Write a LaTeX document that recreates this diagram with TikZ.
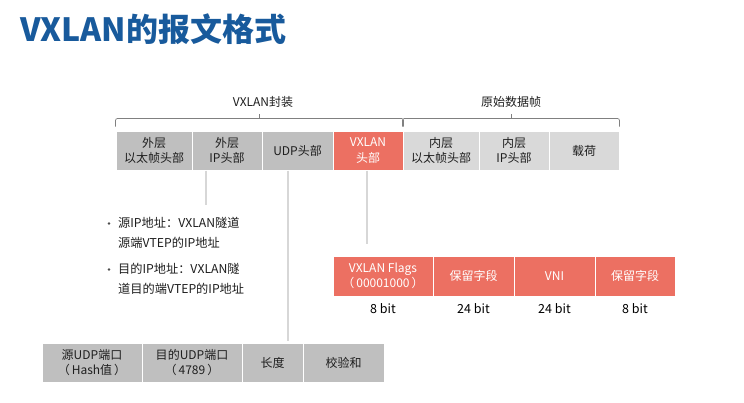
\documentclass[tikz,border=0pt]{standalone}
\usepackage{fontspec}
\setmainfont{Noto Sans CJK SC}
\usetikzlibrary{calc}
\definecolor{titleblue}{RGB}{24,90,156}
\definecolor{darkbox}{RGB}{191,191,191}
\definecolor{lightbox}{RGB}{217,217,217}
\definecolor{redbox}{RGB}{236,112,98}
\definecolor{txt}{RGB}{30,30,30}
\definecolor{connc}{RGB}{215,215,215}
\definecolor{bracec}{RGB}{128,128,128}
\begin{document}
\begin{tikzpicture}[x=1pt,y=-1pt,
  every node/.style={font=\fontsize{12}{15.5}\selectfont, text=txt},
  seg/.style={draw=white, line width=1pt, inner sep=0pt, align=center, minimum height=39pt},
  outerseg/.style={seg, fill=darkbox},
  innerseg/.style={seg, fill=lightbox},
  redseg/.style={seg, fill=redbox, text=white},
  conn/.style={draw=connc, line width=1.4pt},
  bracel/.style={draw=bracec, line width=0.7pt, rounded corners=2pt},
  bitlabel/.style={font=\fontsize{12.5}{14}\selectfont, text=black},
  bullettext/.style={align=left, anchor=north west, inner sep=0pt, font=\fontsize{12.2}{20.5}\selectfont},
  bulletdot/.style={circle, fill=txt!80, inner sep=0pt, minimum size=2.6pt}
]
\useasboundingbox (0,0) rectangle (744,402);
\fill[white] (0,0) rectangle (744,402);

% title
\node[anchor=west, inner sep=0pt, text=titleblue, font=\fontsize{32}{36}\selectfont\bfseries] (title) at (20,29) {VXLAN的报文格式};

% top row
\node[outerseg, minimum width=76pt] (b1) at (154,150.5) {外层\\以太帧头部};
\node[outerseg, minimum width=70pt] (b2) at (227,150.5) {外层\\IP头部};
\node[outerseg, minimum width=71pt] (b3) at (297.5,150.5) {UDP头部};
\node[redseg, minimum width=70pt] (b4) at (368,150.5) {VXLAN\\头部};
\node[innerseg, minimum width=76pt] (b5) at (441,150.5) {内层\\以太帧头部};
\node[innerseg, minimum width=70pt] (b6) at (514,150.5) {内层\\IP头部};
\node[innerseg, minimum width=70pt] (b7) at (584,150.5) {载荷};

% braces
\draw[bracel] ([yshift=4pt]b1.north west) |- ([yshift=12pt]b4.north east) -- ([yshift=4pt]b4.north east);
\draw[bracel] ([yshift=4pt]b5.north west) |- ([yshift=12pt]b7.north east) -- ([yshift=4pt]b7.north east);
\coordinate (m1) at ($(b1.north west)!0.5!(b4.north east)$);
\coordinate (m2) at ($(b5.north west)!0.5!(b7.north east)$);
\draw[bracel] ($(m1)+(0,-12)$) -- ($(m1)+(0,-17)$);
\draw[bracel] ($(m2)+(0,-12)$) -- ($(m2)+(0,-17)$);
\node (lab1) at (263,102) {VXLAN封装};
\node (lab2) at (511,102) {原始数据帧};

% bullets
\node[bulletdot] (d1) at (109,223.5) {};
\node[bullettext] (t1) at (118,216.5) {源IP地址：VXLAN隧道\\源端VTEP的IP地址};
\node[bulletdot] (d2) at (109,269.5) {};
\node[bullettext] (t2) at (118,262.5) {目的IP地址：VXLAN隧\\道目的端VTEP的IP地址};

% VXLAN header fields
\node[redseg, minimum width=100pt, minimum height=40pt] (f1) at (383,276) {VXLAN Flags\\（\,00001000\,）};
\node[redseg, minimum width=81pt, minimum height=40pt] (f2) at (473.5,276) {保留字段};
\node[redseg, minimum width=81pt, minimum height=40pt] (f3) at (554.5,276) {VNI};
\node[redseg, minimum width=80pt, minimum height=40pt] (f4) at (635,276) {保留字段};
\node[bitlabel] (l1) at (383,309) {8 bit};
\node[bitlabel] (l2) at (473.5,309) {24 bit};
\node[bitlabel] (l3) at (554.5,309) {24 bit};
\node[bitlabel] (l4) at (635,309) {8 bit};

% UDP header fields
\node[outerseg, minimum width=100pt] (u1) at (92,362.5) {源UDP端口\\（\,Hash值\,）};
\node[outerseg, minimum width=100pt] (u2) at (192,362.5) {目的UDP端口\\（\,4789\,）};
\node[outerseg, minimum width=61pt] (u3) at (272.5,362.5) {长度};
\node[outerseg, minimum width=81pt] (u4) at (343.5,362.5) {校验和};

% connectors
\coordinate (ipend) at (206,205);
\coordinate (udpx) at (288,0);
\coordinate (vxend) at (367,244);
\draw[conn] (b2.south -| ipend) -- (ipend);
\draw[conn] (b3.south -| udpx) -- ($(u3.north -| udpx)+(0,-2)$);
\draw[conn] (b4.south -| vxend) -- (vxend);
\end{tikzpicture}
\end{document}
